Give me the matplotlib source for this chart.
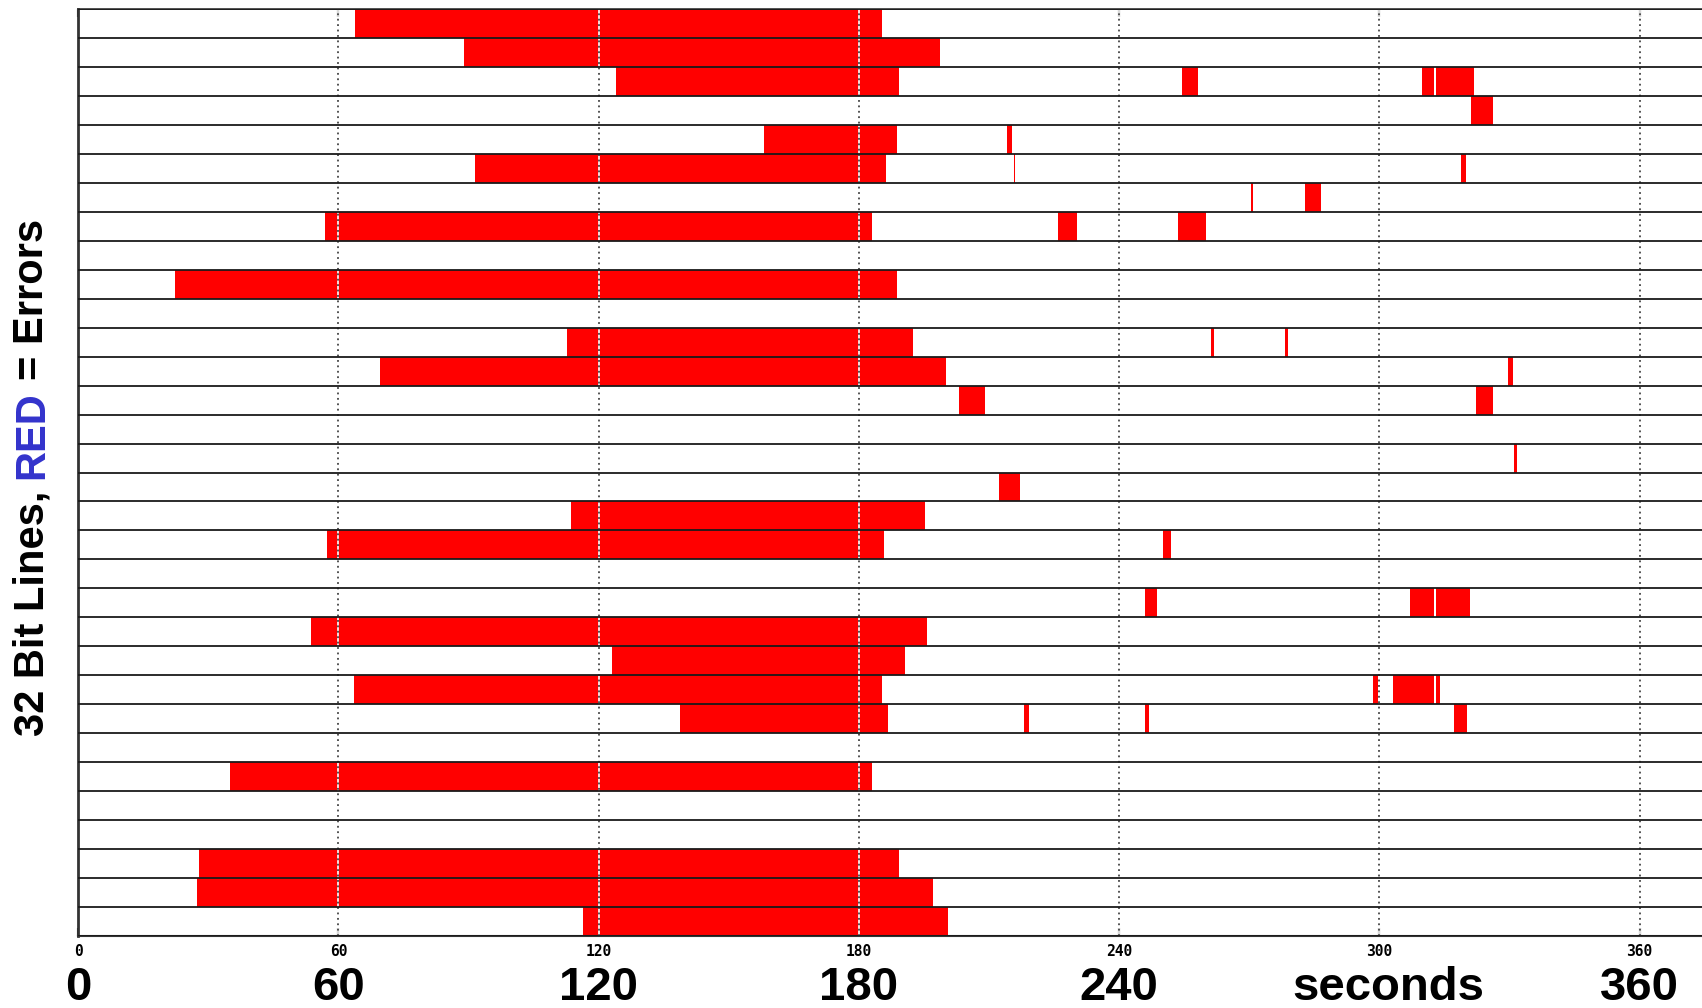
import matplotlib
matplotlib.use("Agg")
import matplotlib.pyplot as plt
import matplotlib.transforms as mtransforms
import numpy as np

# Error intervals per bit line (1 = top line), times in seconds
err_line = [1, 2, 3, 3, 3, 3, 4, 5, 5, 6, 6, 6, 7, 7, 8, 8, 8, 10,
            12, 12, 12, 13, 13, 14, 14, 16, 17, 18, 19, 19,
            21, 21, 21, 22, 23, 24, 24, 24, 24, 25, 25, 25, 25,
            27, 30, 31, 32]
err_start = [63.9, 89.0, 124.0, 254.4, 309.8, 313.1, 321.1, 158.1, 214.2,
             91.4, 215.7, 318.9, 270.5, 282.8, 56.8, 226.0, 253.5, 22.3,
             112.6, 261.1, 278.2, 69.6, 329.6, 203.0, 322.4, 331.0, 212.4,
             113.6, 57.3, 250.1,
             246.0, 307.0, 313.1, 53.6, 123.0, 63.5, 298.5, 303.1, 313.1,
             138.7, 218.0, 246.0, 317.3,
             35.1, 27.9, 27.5, 116.4]
err_end = [185.4, 198.6, 189.2, 258.2, 312.5, 321.9, 326.2, 188.7, 215.2,
           186.3, 216.1, 320.0, 270.9, 286.5, 183.0, 230.3, 260.0, 188.7,
           192.5, 261.9, 279.0, 200.0, 330.9, 209.0, 326.2, 331.8, 217.1,
           195.3, 185.9, 252.0,
           248.7, 312.5, 321.0, 195.8, 190.6, 185.4, 299.8, 312.5, 313.9,
           186.8, 219.3, 246.8, 320.2,
           183.0, 189.2, 197.2, 200.6]

n_lines = 32
ticks = [0, 60, 120, 180, 240, 300, 360]
small_labels = ['0', '60', '120', '180', '240', '300', '360']
big_labels = ['0', '60', '120', '180', '240', 'seconds', '360']
x_max = 374.4

fig = plt.figure(figsize=(17.02, 10.08), dpi=100)
ax = fig.add_axes([78.2 / 1702, 72 / 1008, 1 - 78.2 / 1702, 927 / 1008])

start = np.array(err_start)
end = np.array(err_end)
ax.barh(err_line, end - start, left=start, height=1.0, color='#ff0000',
        linewidth=0, zorder=2)

# row separators
ax.hlines(np.arange(0.5, n_lines + 1), 0, x_max, color='#1a1a1a', lw=1.3, zorder=4)

# dotted grid (white under grey dots so it shows over red)
for t in ticks[1:]:
    ax.axvline(t, color='white', lw=1.2, zorder=3)
    ax.axvline(t, color='#444444', lw=1.3, ls=(0, (1, 2)), zorder=3.1)

ax.set_xlim(0, x_max)
ax.set_ylim(n_lines + 0.5, 0.5)
ax.set_yticks([])
ax.set_xticks(ticks)
ax.set_xticklabels(small_labels, fontfamily='DejaVu Sans Mono',
                   fontweight='bold', fontsize=10.5)
ax.tick_params(axis='x', direction='in', top=True, bottom=True, length=6,
               width=1.5, color='#222222', pad=6)

for side in ['left', 'bottom', 'top']:
    ax.spines[side].set_color('#333333')
ax.spines['left'].set_linewidth(2)
ax.spines['bottom'].set_linewidth(1.5)
ax.spines['top'].set_linewidth(1.2)
ax.spines['right'].set_visible(False)

# big axis labels under the small ones
trans = mtransforms.blended_transform_factory(ax.transData, fig.transFigure)
for t, lab in zip(ticks, big_labels):
    xpos = t + 2 if lab == 'seconds' else t
    ax.text(xpos, 0.008, lab, transform=trans, ha='center', va='baseline',
            fontsize=34, fontweight='bold', family=['Liberation Sans', 'DejaVu Sans'],
            clip_on=False)

# y label in three colored pieces, rotated
lab_font = dict(fontsize=30, fontweight='bold', family=['Liberation Sans', 'DejaVu Sans'],
                rotation=90, rotation_mode='anchor', ha='left', va='baseline')
fig.canvas.draw()
renderer = fig.canvas.get_renderer()


def text_len(s):
    t = fig.text(0, 0, s, fontsize=30, fontweight='bold',
                 family=['Liberation Sans', 'DejaVu Sans'])
    w = t.get_window_extent(renderer).width
    t.remove()
    return w / fig.bbox.height


x0 = 43 / 1702
y0 = 1 - 736 / 1008
full = "32 Bit Lines, RED = Errors"
upto_red = "32 Bit Lines, RED"
fig.text(x0, y0, "32 Bit Lines,", color='black', **lab_font)
fig.text(x0, y0 + text_len(upto_red) - text_len("RED"), "RED", color='#3333cc', **lab_font)
fig.text(x0, y0 + text_len(full) - text_len("= Errors"), "= Errors", color='black', **lab_font)

fig.savefig('out.png', dpi=100)
